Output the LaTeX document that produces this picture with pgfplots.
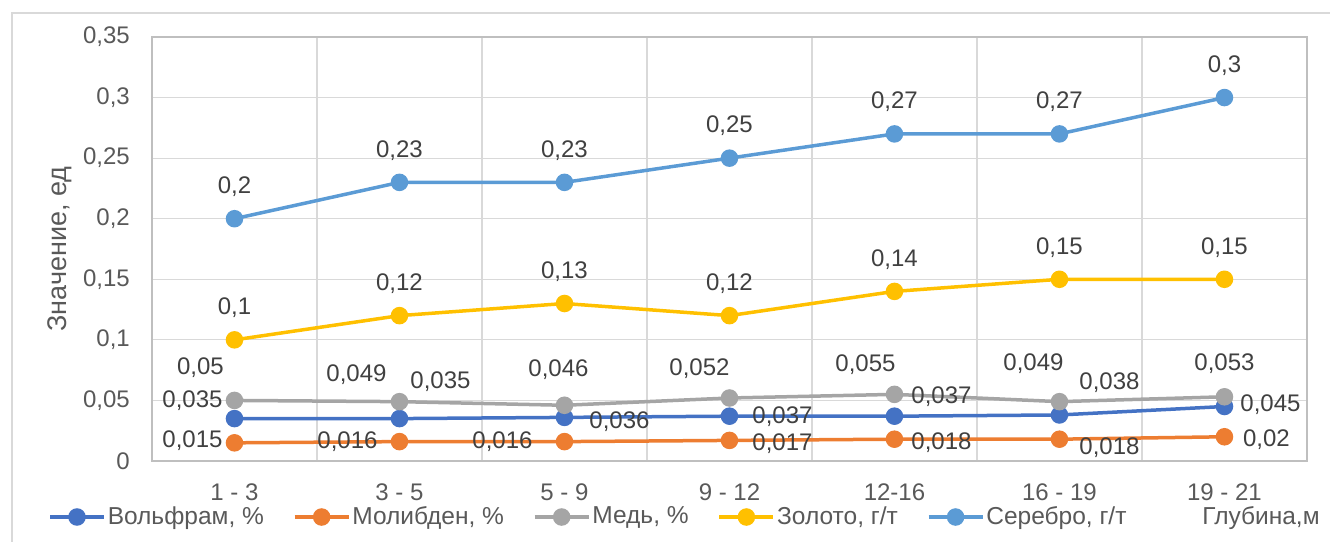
\documentclass[border=0pt]{standalone}
\usepackage{pgfplots}
\pgfplotsset{compat=1.18}
\usepackage{fontspec}
\setmainfont{Liberation Sans}
\definecolor{cW}{HTML}{4472C4}
\definecolor{cMo}{HTML}{ED7D31}
\definecolor{cCu}{HTML}{A5A5A5}
\definecolor{cAu}{HTML}{FFC000}
\definecolor{cAg}{HTML}{5B9BD5}
\definecolor{cGrid}{HTML}{D9D9D9}
\definecolor{cAxis}{HTML}{BFBFBF}
\definecolor{cText}{HTML}{404040}
\definecolor{cTick}{HTML}{595959}

\pgfplotstableread{
x y dx dy
0 0.035 -42 18
1 0.035 41 37
2 0.036 55 -4
3 0.037 53 0
4 0.037 47 20
5 0.038 50 32
6 0.045 46 2
}\tW
\pgfplotstableread{
x y dx dy
0 0.015 -42 2
1 0.016 -52 0
2 0.016 -62 0
3 0.017 53 -3
4 0.018 47 -3
5 0.018 50 -8
6 0.020 42 -3
}\tMo
\pgfplotstableread{
x y dx dy
0 0.050 -34 33
1 0.049 -43 27
2 0.046 -6 36
3 0.052 -30 29
4 0.055 -29 30
5 0.049 -26 38
6 0.053 0 33
}\tCu
\pgfplotstableread{
x y dx dy
0 0.10 0 32
1 0.12 0 32
2 0.13 0 32
3 0.12 0 32
4 0.14 0 32
5 0.15 0 32
6 0.15 0 32
}\tAu
\pgfplotstableread{
x y dx dy
0 0.20 0 32
1 0.23 0 32
2 0.23 0 32
3 0.25 0 32
4 0.27 0 32
5 0.27 0 32
6 0.30 0 32
}\tAg

\begin{document}
\fontsize{24}{28}\selectfont
\begin{tikzpicture}
\useasboundingbox (-152pt,-80pt) rectangle (1178pt,461pt);
\draw[cGrid, line width=1.5pt] (-140pt,-100pt) -- (-140pt,448pt) -- (1200pt,448pt);
\begin{axis}[
  at={(0pt,0pt)}, anchor=south west,
  scale only axis, width=1155pt, height=424pt,
  xmin=-0.5, xmax=6.5, ymin=0, ymax=0.35,
  xtick={0,1,2,3,4,5,6},
  xticklabels={1 - 3,3 - 5,5 - 9,9 - 12,12-16,16 - 19,19 - 21},
  minor xtick={0.5,1.5,2.5,3.5,4.5,5.5},
  ytick={0,0.05,0.1,0.15,0.2,0.25,0.3,0.35},
  ymajorgrids, xminorgrids,
  grid style={cGrid, line width=1.2pt},
  minor grid style={cGrid, line width=1.2pt},
  major tick length=0pt, minor tick length=0pt,
  axis line style={cAxis, line width=1.5pt},
  /pgf/number format/assume math mode=true,
  /pgf/number format/use comma,
  yticklabel style={font=\fontsize{24}{28}\selectfont, text=cTick, anchor=east, xshift=-14pt},
  xticklabel style={font=\fontsize{24}{28}\selectfont, text=cTick, anchor=center, yshift=-31pt},
  yticklabel={\pgfmathprintnumber[fixed,precision=2,use comma]{\tick}},
  ylabel={Значение, ед},
  ylabel style={at={(axis description cs:-0.0797,0.5)}, anchor=center, rotate=0, font=\fontsize{27}{31}\selectfont, text=cTick},
  xlabel={Глубина,м},
  xlabel style={at={(axis description cs:0.9602,-0.1350)}, anchor=center, font=\fontsize{24.5}{28}\selectfont, text=cTick},
  clip=false,
  legend columns=5,
  legend style={at={(axis description cs:-0.0900,-0.1321)}, anchor=west, draw=none, fill=none,
    inner xsep=0pt,
    font=\fontsize{24.5}{28}\selectfont, text=cTick,
    nodes={inner xsep=2pt},
    /tikz/every even column/.append style={column sep=27pt}},
  legend image code/.code={\draw[mark repeat=2,mark phase=2,#1] plot coordinates {(0pt,0pt) (27pt,0pt) (54pt,0pt)};},
  every axis plot/.append style={line width=3.5pt, mark=*, mark size=7pt, mark options={solid}},
  nodes near coords={\pgfmathprintnumber[fixed,precision=3,use comma]{\pgfplotspointmeta}},
  nodes near coords style={font=\fontsize{24}{28}\selectfont, text=cText, anchor=center, xshift=\dx pt, yshift=\dy pt},
  visualization depends on={\thisrow{dx}\as\dx},
  visualization depends on={\thisrow{dy}\as\dy},
]
\addplot[color=cW, mark options={fill=cW, draw=cW}] table[x=x,y=y] {\tW};
\addlegendentry{Вольфрам, \%}
\addplot[color=cMo, mark options={fill=cMo, draw=cMo}] table[x=x,y=y] {\tMo};
\addlegendentry{Молибден, \%}
\addplot[color=cCu, mark options={fill=cCu, draw=cCu}] table[x=x,y=y] {\tCu};
\addlegendentry{Медь, \%}
\addplot[color=cAu, mark options={fill=cAu, draw=cAu}] table[x=x,y=y] {\tAu};
\addlegendentry{Золото, г/т}
\addplot[color=cAg, mark options={fill=cAg, draw=cAg}] table[x=x,y=y] {\tAg};
\addlegendentry{Серебро, г/т}
\end{axis}
\end{tikzpicture}
\end{document}
